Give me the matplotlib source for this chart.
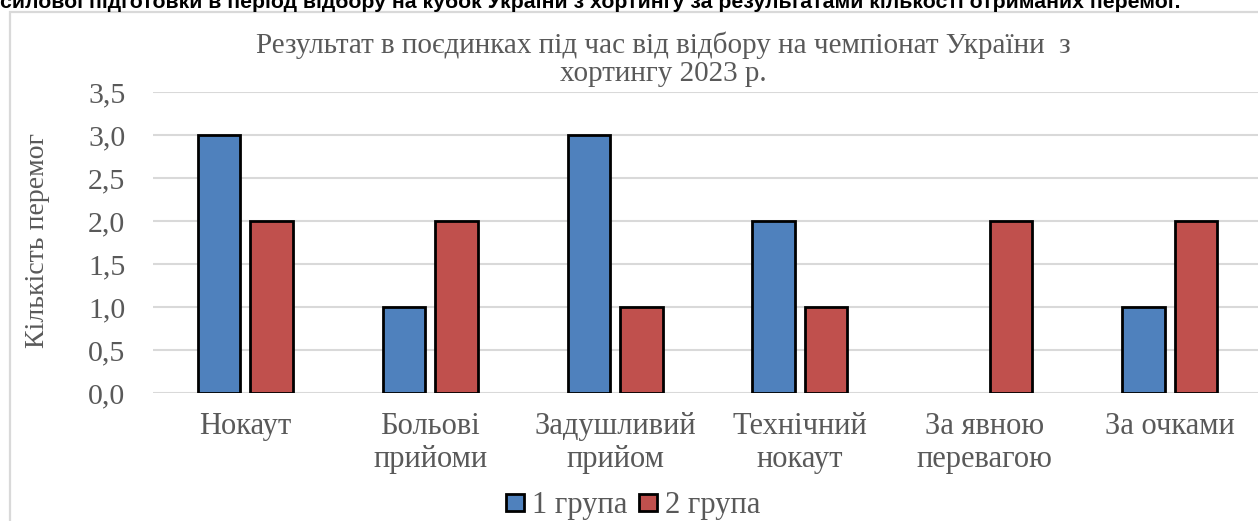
import matplotlib
matplotlib.use("Agg")
import matplotlib.pyplot as plt
import matplotlib.patches as patches
import numpy as np

# data
categories = ["Нокаут", "Больові\nприйоми", "Задушливий\nприйом", "Технічний\nнокаут",
              "За явною\nперевагою", "За очками"]
group1 = [3, 1, 3, 2, 0, 1]
group2 = [2, 2, 1, 1, 2, 2]
series_names = ["1 група", "2 група"]
y_ticks = [0.0, 0.5, 1.0, 1.5, 2.0, 2.5, 3.0, 3.5]
y_tick_labels = ["0,0", "0,5", "1,0", "1,5", "2,0", "2,5", "3,0", "3,5"]

W, H = 1258, 521
BLUE = "#4F81BD"
RED = "#C0504D"
GRID = "#d9d9d9"
TXT = "#595959"
SERIF = "Liberation Serif"

fig = plt.figure(figsize=(W / 100, H / 100), dpi=100, facecolor="white")

# chart frame (runs off the right and bottom edge)
frame = patches.Rectangle((10 / W, -0.1), 1.2, (H - 12) / H + 0.1, transform=fig.transFigure,
                          facecolor="none", edgecolor=GRID, linewidth=1.6)
fig.patches.append(frame)

# caption line of the source page, cut by the crop at the top
fig.text(0.0, (H - 8.5) / H,
         "силової підготовки в період відбору на кубок України з хортингу за результатами кількості отриманих перемог.",
         ha="left", va="baseline", fontsize=15.3, fontweight="bold",
         family=["Liberation Sans Narrow", "Liberation Sans"], color="black")

left, right = 153 / W, 1262 / W
bottom, top = (H - 393) / H, (H - 92) / H
ax = fig.add_axes([left, bottom, right - left, top - bottom])
ax.set_facecolor("none")

x = np.arange(len(categories))
bw = 0.23
off = 0.142
ax.bar(x - off, group1, bw, color=BLUE, edgecolor="black",
       linewidth=[2.0 if v else 0 for v in group1], label=series_names[0], zorder=3)
ax.bar(x + off, group2, bw, color=RED, edgecolor="black",
       linewidth=[2.0 if v else 0 for v in group2], label=series_names[1], zorder=3)

ax.set_xlim(-0.5, len(categories) - 0.5)
ax.set_ylim(0, 3.5)
ax.set_yticks(y_ticks)
ax.set_yticklabels(y_tick_labels, family=SERIF, fontsize=21.5, color=TXT)
ax.set_xticks(x)
ax.set_xticklabels(categories, family=SERIF, fontsize=22, color=TXT, linespacing=1.17)
ax.tick_params(axis="both", length=0)
ax.tick_params(axis="y", pad=20)
ax.tick_params(axis="x", pad=14)
ax.yaxis.grid(True, color=GRID, linewidth=1.5, zorder=0)
ax.set_axisbelow(True)
for s in ax.spines.values():
    s.set_visible(False)

fig.text(38 / W, (H - 240) / H, "Кількість перемог", rotation=90, ha="center", va="center",
         family=SERIF, fontsize=20, color=TXT)

fig.text(663 / W, (H - 59) / H, "Результат в поєдинках під час від відбору на чемпіонат України  з\nхортингу 2023 р.",
         ha="center", va="center", family=SERIF, fontsize=21, color=TXT, linespacing=1.1)

fig.legend(loc="center", bbox_to_anchor=(633 / W, (H - 506) / H), ncol=2, frameon=False,
           prop={"family": SERIF, "size": 22}, labelcolor=TXT, handlelength=0.6, handleheight=0.5,
           handletextpad=0.25, columnspacing=0.4, borderpad=0)

fig.savefig("out.png", dpi=100, facecolor="white")
